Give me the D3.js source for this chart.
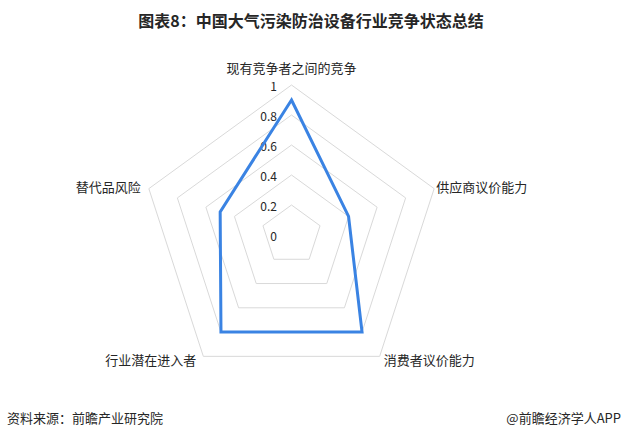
<!DOCTYPE html>
<html>
<head>
<meta charset="utf-8">
<script src="https://cdn.jsdelivr.net/npm/d3@7"></script>
<style>
  html, body { margin: 0; padding: 0; background: #fff; }
  svg { display: block; font-family: "Noto Sans CJK SC", "Noto Sans", sans-serif; }
</style>
</head>
<body>
<svg id="chart" width="622" height="437"></svg>
<script>
const categories = ["现有竞争者之间的竞争", "供应商议价能力", "消费者议价能力", "行业潜在进入者", "替代品风险"];
const values = [0.9, 0.4, 0.8, 0.8, 0.5];
const tickValues = [0, 0.2, 0.4, 0.6, 0.8, 1];
const tickLabels = ["0", "0.2", "0.4", "0.6", "0.8", "1"];
const title = "图表8：中国大气污染防治设备行业竞争状态总结";
const source = "资料来源：前瞻产业研究院";
const credit = "@前瞻经济学人APP";

const svg = d3.select("#chart");
const cx = 291.5, cy = 235, R = 150;
const r = d3.scaleLinear().domain([0, 1]).range([0, R]);
const angle = d3.scaleLinear().domain([0, categories.length]).range([0, 2 * Math.PI]);
const pt = (i, v) => [cx + r(v) * Math.sin(angle(i)), cy - r(v) * Math.cos(angle(i))];

// title
svg.append("text").attr("x", 311).attr("y", 20).attr("text-anchor", "middle")
  .attr("dominant-baseline", "central").attr("font-size", 16).attr("font-weight", "bold")
  .attr("fill", "#262626").text(title);

// grid pentagons
const g = svg.append("g");
tickValues.filter(t => t > 0).forEach(t => {
  g.append("polygon")
    .attr("points", categories.map((c, i) => pt(i, t).join(",")).join(" "))
    .attr("fill", "none").attr("stroke", "#d9d9d9").attr("stroke-width", 1);
});

// tick labels
tickValues.forEach((t, k) => {
  g.append("text").attr("x", cx - 14.5).attr("y", cy - r(t) + 0.5)
    .attr("text-anchor", "end").attr("dominant-baseline", "central")
    .attr("font-size", 12).attr("fill", "#262626").text(tickLabels[k]);
});

// data line
const line = d3.line().curve(d3.curveLinearClosed);
g.append("path")
  .attr("d", line(values.map((v, i) => pt(i, v))))
  .attr("fill", "none").attr("stroke", "#3a83e3").attr("stroke-width", 3)
  .attr("stroke-linejoin", "miter");

// category labels
const offsets = [
  { dx: 0, dy: -18, anchor: "middle" },
  { dx: 2, dy: -2, anchor: "start" },
  { dx: 4, dy: 3, anchor: "start" },
  { dx: -7, dy: 3, anchor: "end" },
  { dx: -8, dy: -2, anchor: "end" }
];
categories.forEach((c, i) => {
  const [x, y] = pt(i, 1);
  g.append("text").attr("x", x + offsets[i].dx).attr("y", y + offsets[i].dy)
    .attr("text-anchor", offsets[i].anchor).attr("dominant-baseline", "central")
    .attr("font-size", 13).attr("fill", "#262626").text(c);
});

// footer
svg.append("text").attr("x", 7).attr("y", 417).attr("dominant-baseline", "central")
  .attr("font-size", 13).attr("fill", "#262626").text(source);
svg.append("text").attr("x", 621).attr("y", 417).attr("text-anchor", "end")
  .attr("dominant-baseline", "central").attr("font-size", 13).attr("fill", "#262626").text(credit);
</script>
</body>
</html>
